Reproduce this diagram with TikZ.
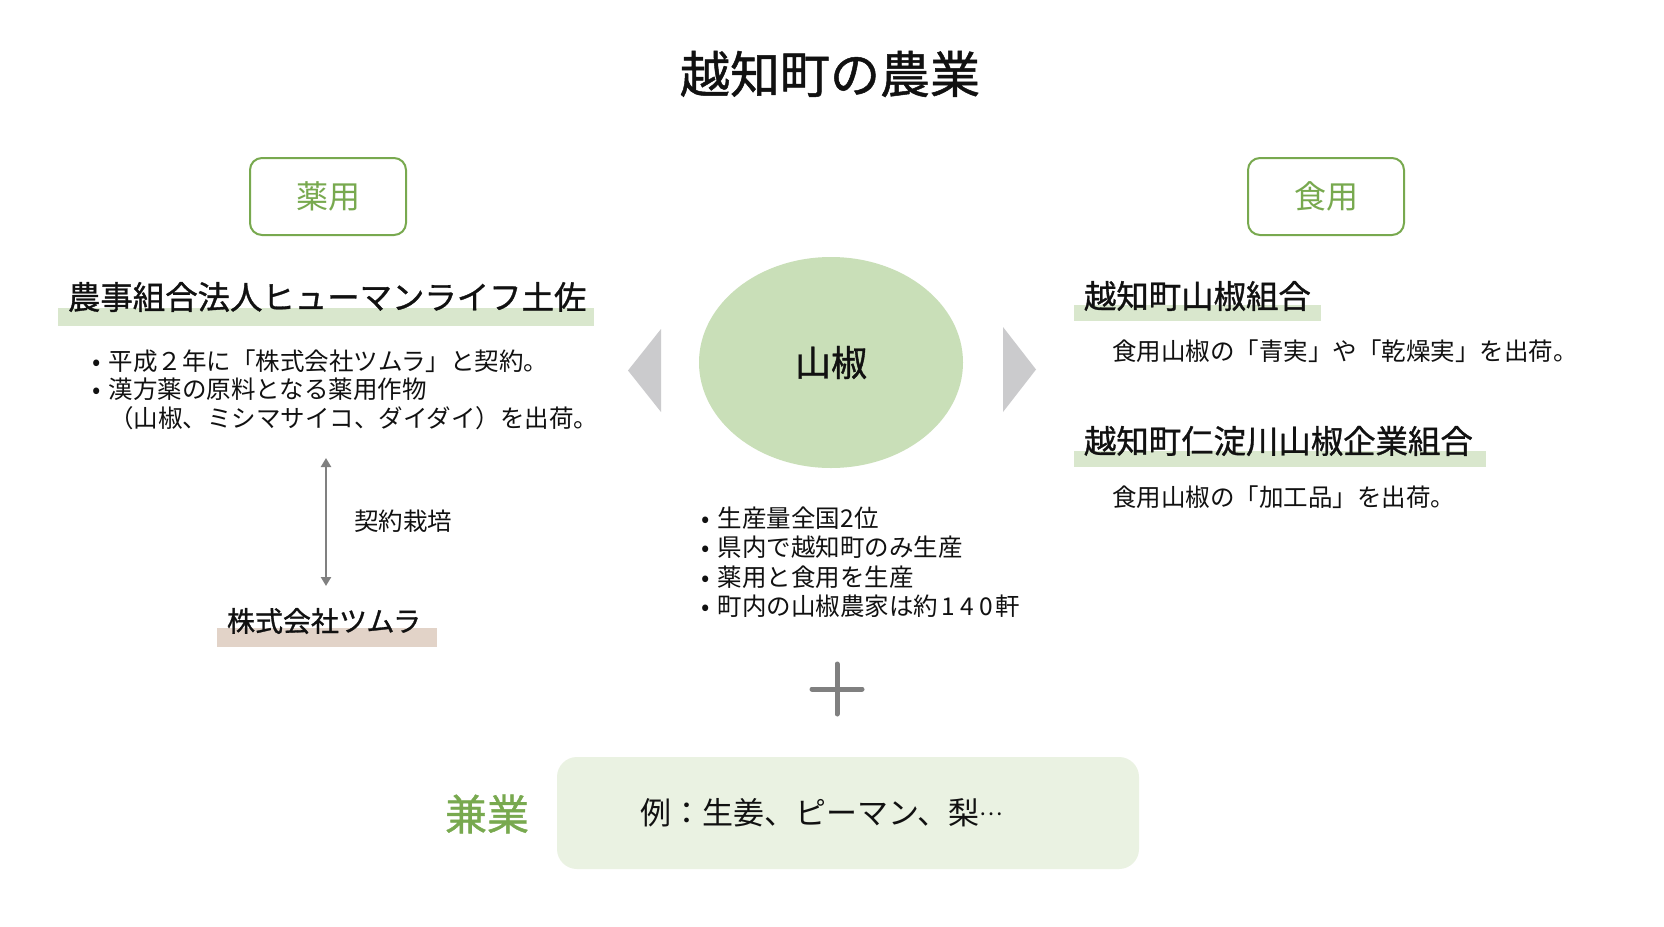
\documentclass[tikz,border=0pt]{standalone}
\usepackage{fontspec}
\setmainfont{Noto Sans CJK JP}
\newfontfamily\jph[FakeBold=1]{Noto Sans CJK JP}
\usetikzlibrary{arrows.meta,shapes.geometric}
\definecolor{ggreen}{HTML}{78A94F}
\definecolor{ellfill}{HTML}{C9DFB8}
\definecolor{barg}{HTML}{D9E7CD}
\definecolor{barb}{HTML}{E2D3C8}
\definecolor{trig}{HTML}{CBCBCD}
\definecolor{boxf}{HTML}{EAF2E2}
\definecolor{txt}{HTML}{111111}
\definecolor{arrg}{HTML}{808080}
\newcommand{\fsz}[1]{\fontsize{#1}{#1}\selectfont}
\newcommand{\bul}{\llap{•\hspace{8pt}}}
\newcommand{\dg}[1]{\makebox[19pt]{#1}}
\begin{document}
\begin{tikzpicture}[x=1pt,y=-1pt,
  every node/.style={inner sep=0pt,outer sep=0pt,text=txt},
  titlestyle/.style={font=\jph\fsz{50}},
  catbox/.style={draw=ggreen,line width=2pt,rounded corners=12pt,minimum width=156pt,minimum height=77pt,text=ggreen,font=\fsz{32}},
  head/.style={anchor=west,font=\jph\fsz{32.4}},
  body/.style={anchor=west,font=\fsz{24.5}},
  hbar/.style={fill=barg,draw=none},
  tri/.style={fill=trig,draw=none},
  conn/.style={draw=arrg,line width=2.5pt,{Triangle[width=10pt,length=9pt]}-{Triangle[width=10pt,length=9pt]}}
]
\useasboundingbox[fill=white] (0,0) rectangle (1664,926);

% title
\node[titlestyle] (title) at (830,74) {越知町の農業};

% category boxes
\node[catbox] (yakuyo) at (328,196.5) {薬用};
\node[catbox] (shokuyo) at (1326,196.5) {食用};

% left column
\fill[hbar] (58,308) rectangle (594,326);
\node[head] (hl) at (68,297) {農事組合法人ヒューマンライフ土佐};
\node[body] (l1) at (109,361) {\bul 平成２年に「株式会社ツムラ」と契約。};
\node[body] (l2) at (109,389) {\bul 漢方薬の原料となる薬用作物};
\node[body] (l3) at (109,418) {（山椒、ミシマサイコ、ダイダイ）を出荷。};

\coordinate (atop) at (326,458);
\coordinate (abot) at (326,586);
\draw[conn] (atop) -- (abot);
\node[body] (keiyaku) at (354,521) {契約栽培};

\fill[barb] (217,628) rectangle (437,647);
\node[head,font=\jph\fsz{28}] (tsumura) at (227,621) {株式会社ツムラ};

% center
\fill[tri] (661,329) -- (628,370.5) -- (661,412) -- cycle;
\fill[tri] (1003,327) -- (1036,369.5) -- (1003,412) -- cycle;
\node[ellipse,fill=ellfill,minimum width=264pt,minimum height=211pt,font=\jph\fsz{36}] (sansho) at (831,362.5) {山椒};

\node[body] (c1) at (718,518) {\bul 生産量全国2位};
\node[body] (c2) at (718,547.5) {\bul 県内で越知町のみ生産};
\node[body] (c3) at (718,577) {\bul 薬用と食用を生産};
\node[body] (c4) at (718,606.5) {\bul 町内の山椒農家は約\dg{1}\dg{4}\dg{0}軒};

% right column
\fill[hbar] (1074,305) rectangle (1321,321);
\node[head] (hr1) at (1084,296) {越知町山椒組合};
\node[body] (r1) at (1112,351) {食用山椒の「青実」や「乾燥実」を出荷。};
\fill[hbar] (1074,451) rectangle (1486,467);
\node[head] (hr2) at (1084,441) {越知町仁淀川山椒企業組合};
\node[body] (r2) at (1112,497) {食用山椒の「加工品」を出荷。};

% plus
\draw[arrg,line width=5pt,line cap=round] (812,689) -- (862,689) (837,664) -- (837,714);

% bottom
\node[fill=boxf,rounded corners=20pt,minimum width=582pt,minimum height=112pt] (exbox) at (848,813) {};
\node[anchor=west,font=\fsz{31}] (ex) at (640,813) {例：生姜、ピーマン、梨\raisebox{9pt}{\fsz{22}…}};
\node[font=\jph\fsz{42},text=ggreen] (kengyo) at (487,814) {兼業};
\end{tikzpicture}
\end{document}
